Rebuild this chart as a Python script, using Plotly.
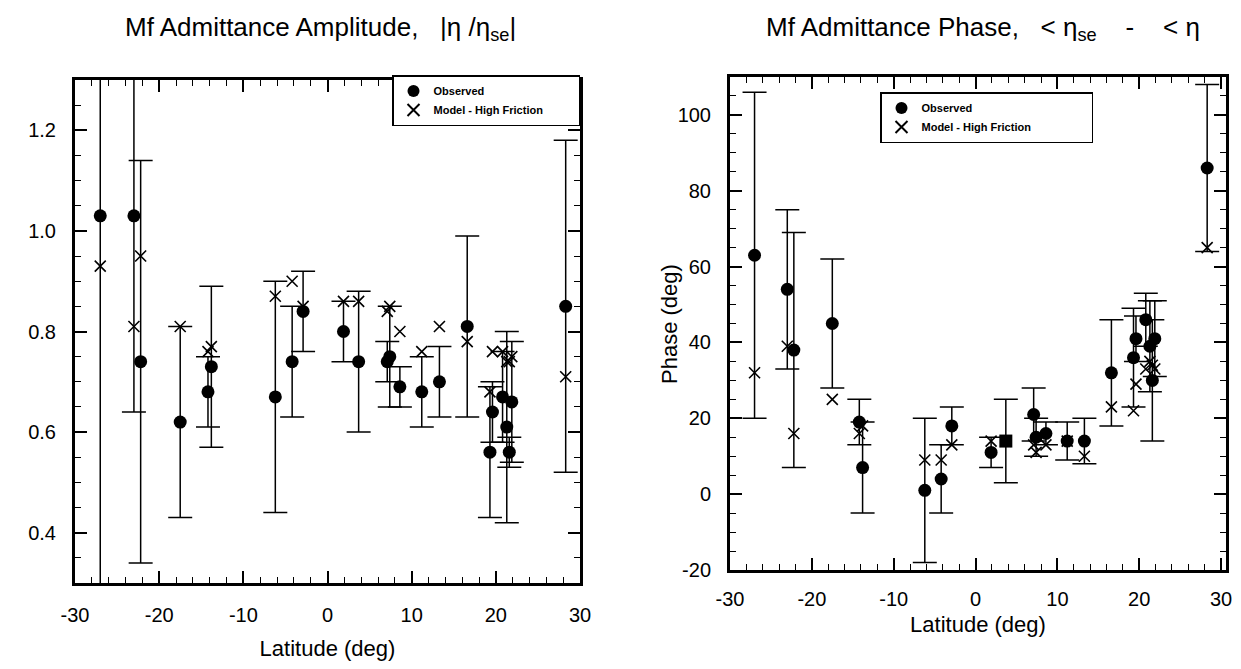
import plotly.graph_objects as go

# station latitudes (deg), shared by both panels
latitude = [-27.0, -23.0, -22.2, -17.5, -14.2, -13.8, -6.2, -4.2, -2.9, 1.9, 3.7,
            7.1, 7.4, 8.6, 11.2, 13.3, 16.6, 19.3, 19.6, 20.8, 21.3, 21.6, 21.9, 28.3]

# amplitude |eta/eta_se|
amp_obs = [1.03, 1.03, 0.74, 0.62, 0.68, 0.73, 0.67, 0.74, 0.84, 0.80, 0.74,
           0.74, 0.75, 0.69, 0.68, 0.70, 0.81, 0.56, 0.64, 0.67, 0.61, 0.56, 0.66, 0.85]
amp_err = [0.80, 0.39, 0.40, 0.19, 0.07, 0.16, 0.23, 0.11, 0.08, 0.06, 0.14,
           0.04, 0.10, 0.04, 0.07, 0.07, 0.18, 0.13, 0.06, 0.09, 0.19, 0.03, 0.12, 0.33]
amp_model = [0.93, 0.81, 0.95, 0.81, 0.76, 0.77, 0.87, 0.90, 0.85, 0.86, 0.86,
             0.84, 0.85, 0.80, 0.76, 0.81, 0.78, 0.68, 0.76, 0.76, 0.74, 0.74, 0.75, 0.71]

# phase (deg)
ph_obs = [63, 54, 38, 45, 19, 7, 1, 4, 18, 11, 14,
          21, 15, 16, 14, 14, 32, 36, 41, 46, 39, 30, 41, 86]
ph_err = [43, 21, 31, 17, 6, 12, 19, 9, 5, 4, 11,
          7, 5, 3, 5, 6, 14, 13, 6, 7, 12, 16, 10, 22]
ph_model = [32, 39, 16, 25, 16, 18, 9, 9, 13, 14, 14,
            13, 11, 13, 14, 10, 23, 22, 29, 33, 35, 34, 33, 65]

lat_ticks = [-30, -20, -10, 0, 10, 20, 30]
amp_ticks = [0.4, 0.6, 0.8, 1.0, 1.2]
ph_ticks = [-20, 0, 20, 40, 60, 80, 100]

FONT = "Liberation Sans, Arial, Helvetica, sans-serif"
NB = "\u00a0"


def lab(v, fmt="{:g}"):
    # plain hyphen for negatives, like the original
    return fmt.format(v)


fig = go.Figure()

fig.add_trace(go.Scatter(
    x=latitude, y=amp_obs, mode="markers", name="Observed",
    marker=dict(symbol="circle", size=13, color="black"),
    error_y=dict(type="data", array=amp_err, color="black", thickness=1.5, width=12),
    xaxis="x", yaxis="y", legend="legend",
))
fig.add_trace(go.Scatter(
    x=latitude, y=amp_model, mode="markers", name="Model - High Friction" + NB * 10,
    marker=dict(symbol="x-thin-open", size=11, color="black", line=dict(color="black", width=1.6)),
    xaxis="x", yaxis="y", legend="legend",
))
fig.add_trace(go.Scatter(
    x=latitude, y=ph_obs, mode="markers", name="Observed",
    marker=dict(symbol=["square" if i == 10 else "circle" for i in range(len(latitude))],
                size=13, color="black"),
    error_y=dict(type="data", array=ph_err, color="black", thickness=1.5, width=12),
    xaxis="x2", yaxis="y2", legend="legend2",
))
fig.add_trace(go.Scatter(
    x=latitude, y=ph_model, mode="markers", name="Model - High Friction" + NB * 18,
    marker=dict(symbol="x-thin-open", size=11, color="black", line=dict(color="black", width=1.6)),
    xaxis="x2", yaxis="y2", legend="legend2",
))

axis_style = dict(
    showgrid=False, zeroline=False, showline=True, linecolor="black", linewidth=3,
    mirror="ticks", ticks="inside", ticklen=12, tickwidth=1.5, tickcolor="black",
    tickfont=dict(family=FONT, size=20, color="black"), automargin=False,
)
minor_style = dict(ticks="inside", ticklen=6, tickcolor="black", tickwidth=1.2)
legend_style = dict(bgcolor="white", bordercolor="black", borderwidth=1.5,
                    font=dict(family=FONT, size=11, color="black", weight="bold"),
                    itemsizing="constant", tracegroupgap=0, itemwidth=30)

fig.update_layout(
    width=1241, height=669,
    margin=dict(l=0, r=0, t=0, b=0),
    paper_bgcolor="white", plot_bgcolor="white",
    font=dict(family=FONT, color="black"),
    xaxis=dict(domain=[67 / 1241, 572 / 1241], range=[-30, 30], anchor="y",
               tickmode="array", tickvals=lat_ticks, ticktext=[lab(v) for v in lat_ticks],
               minor=dict(dtick=2, **minor_style),
               ticklabelstandoff=12,
               title=dict(text="Latitude (deg)", font=dict(size=22), standoff=16),
               **axis_style),
    yaxis=dict(domain=[1 - 575 / 669, 1 - 72 / 669], range=[0.3, 1.3], anchor="x",
               tickmode="array", tickvals=amp_ticks, ticktext=[lab(v, "{:.1f}") for v in amp_ticks],
               minor=dict(dtick=0.05, **minor_style),
               ticklabelstandoff=12,
               **axis_style),
    xaxis2=dict(domain=[722 / 1241, 1218 / 1241], range=[-30, 30.6], anchor="y2",
                tickmode="array", tickvals=lat_ticks, ticktext=[lab(v) for v in lat_ticks],
                minor=dict(dtick=2, **minor_style),
                ticklabelstandoff=9,
                title=dict(text="Latitude (deg)", font=dict(size=22), standoff=8),
                **axis_style),
    yaxis2=dict(domain=[1 - 562 / 669, 1 - 69 / 669], range=[-20, 110], anchor="x2",
                tickmode="array", tickvals=ph_ticks, ticktext=[lab(v) for v in ph_ticks],
                minor=dict(dtick=5, **minor_style),
                ticklabelstandoff=12,
                **axis_style),
    legend=dict(x=572 / 1241, y=1 - 67 / 669, xanchor="right", yanchor="top", **legend_style),
    legend2=dict(x=872 / 1241, y=1 - 84 / 669, xanchor="left", yanchor="top", **legend_style),
    showlegend=True,
    annotations=[
        dict(text="Mf Admittance Amplitude," + NB * 3 + "|η /η<sub>se</sub>|",
             x=312 / 1241, y=1 - 20 / 669,
             xref="paper", yref="paper", xanchor="center", yanchor="middle", showarrow=False,
             font=dict(family=FONT, size=26, color="black")),
        dict(text="Mf Admittance Phase," + NB * 3 + "<" + NB + "η<sub>se</sub>" + NB * 4 + "-"
             + NB * 4 + "<" + NB + "η",
             x=975 / 1241, y=1 - 20 / 669,
             xref="paper", yref="paper", xanchor="center", yanchor="middle", showarrow=False,
             font=dict(family=FONT, size=26, color="black")),
        dict(text="Phase (deg)", textangle=-90, x=661 / 1241, y=1 - 316 / 669,
             xref="paper", yref="paper", xanchor="center", yanchor="middle", showarrow=False,
             font=dict(family=FONT, size=22, color="black")),
    ],
)

fig.write_html("out.html")
